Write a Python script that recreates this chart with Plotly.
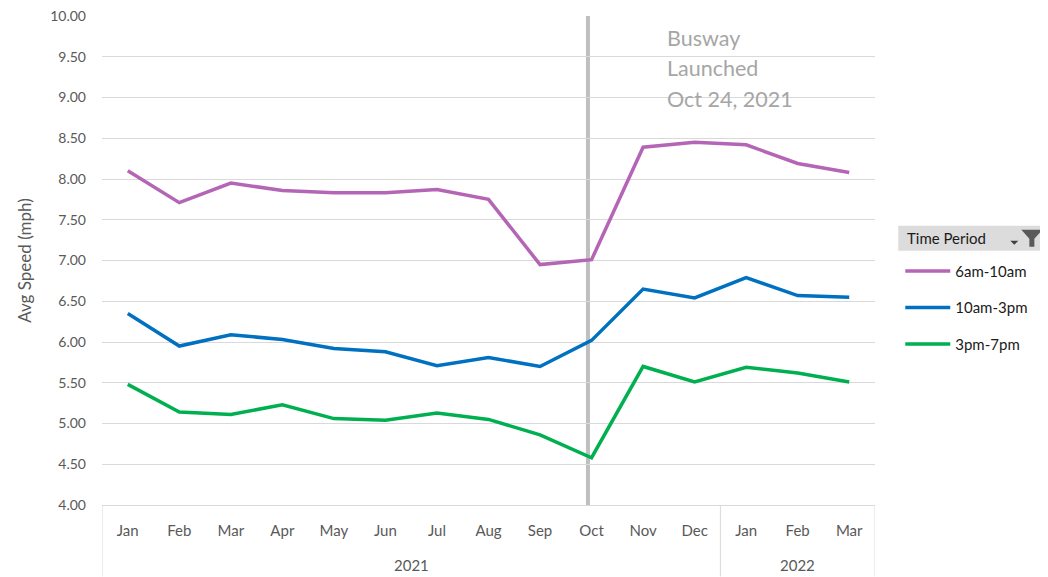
import plotly.graph_objects as go

# ---- data ----
months = ["Jan", "Feb", "Mar", "Apr", "May", "Jun", "Jul", "Aug", "Sep", "Oct", "Nov", "Dec", "Jan", "Feb", "Mar"]
years = ["2021", "2022"]
year_counts = [12, 3]
series_names = ["6am-10am", "10am-3pm", "3pm-7pm"]
speed_6am_10am = [8.10, 7.71, 7.95, 7.86, 7.83, 7.83, 7.87, 7.75, 6.95, 7.01, 8.39, 8.45, 8.42, 8.19, 8.08]
speed_10am_3pm = [6.35, 5.95, 6.09, 6.03, 5.92, 5.88, 5.71, 5.81, 5.70, 6.02, 6.65, 6.54, 6.79, 6.57, 6.55]
speed_3pm_7pm = [5.48, 5.14, 5.11, 5.23, 5.06, 5.04, 5.13, 5.05, 4.86, 4.58, 5.70, 5.51, 5.69, 5.62, 5.51]
busway_position = 8.93  # launch marker, on the month index scale (Oct 24, 2021)
annotation_lines = ["Busway", "Launched", "Oct 24, 2021"]
y_ticks = [4.0, 4.5, 5.0, 5.5, 6.0, 6.5, 7.0, 7.5, 8.0, 8.5, 9.0, 9.5, 10.0]

colors = ["#B565B5", "#0070C0", "#00B050"]
FONT = "Lato, Calibri, Carlito, sans-serif"
GRAY = "#595959"

# page body has an 8px default margin; lay the figure out in screen pixels minus that offset
OFF = 8
W, H = 1048 - OFF, 577 - OFF
L, R, T, B = 102.25 - OFF, 874.75 - OFF, 16.0 - OFF, 505.5 - OFF


def pxx(p):
    return (p - OFF - L) / (R - L)


def pxy(p):
    return (B - (p - OFF)) / (B - T)


x_idx = list(range(len(months)))
fig = go.Figure()
for name, vals, col in zip(series_names, [speed_6am_10am, speed_10am_3pm, speed_3pm_7pm], colors):
    fig.add_trace(go.Scatter(
        x=x_idx, y=vals, mode="lines", name=name, legendgroup=name,
        line=dict(color=col, width=3.5),
    ))

shapes = []
# busway launch line
shapes.append(dict(type="line", xref="x", yref="y", x0=busway_position, x1=busway_position,
                   y0=4, y1=10, line=dict(color="#BFBFBF", width=4), layer="below"))
# category group dividers
bounds = [-0.5]
acc = -0.5
for c in year_counts:
    acc += c
    bounds.append(acc)
for b in bounds:
    shapes.append(dict(type="line", xref="x", yref="paper", x0=b, x1=b, y0=0, y1=pxy(577),
                       line=dict(color="#D9D9D9", width=1)))

annotations = []
start = -0.5
for yr, c in zip(years, year_counts):
    annotations.append(dict(x=start + c / 2, y=pxy(566), xref="x", yref="paper", text=yr,
                            showarrow=False, font=dict(family=FONT, size=15, color=GRAY),
                            xanchor="center", yanchor="middle"))
    start += c

for i, line in enumerate(annotation_lines):
    annotations.append(dict(x=pxx(665), y=pxy(38 + i * 30.5), xref="paper", yref="paper", text=line,
                            showarrow=False, font=dict(family=FONT, size=21.5, color="#A6A6A6"),
                            xanchor="left", yanchor="middle"))

# legend header
shapes.append(dict(type="rect", xref="paper", yref="paper", x0=pxx(898), x1=pxx(1046),
                   y0=pxy(251), y1=pxy(226), fillcolor="#DCDCDC", line=dict(width=0)))
annotations.append(dict(x=pxx(905), y=pxy(238.5), xref="paper", yref="paper", text="Time Period",
                        showarrow=False, font=dict(family=FONT, size=15, color="#1a1a1a"),
                        xanchor="left", yanchor="middle"))


def path(points):
    return "M " + " L ".join(f"{pxx(a)},{pxy(b)}" for a, b in points) + " Z"


# filter icon
shapes.append(dict(type="path", xref="paper", yref="paper",
                   path=path([(1021, 230), (1042, 230), (1034, 239), (1034, 247), (1029, 247), (1029, 239)]),
                   fillcolor="#595959", line=dict(width=0)))
shapes.append(dict(type="path", xref="paper", yref="paper",
                   path=path([(1010, 241), (1018, 241), (1014, 245)]),
                   fillcolor="#404040", line=dict(width=0)))

fig.update_layout(
    width=W, height=H,
    margin=dict(l=L, r=W - R, t=T, b=H - B, autoexpand=False),
    plot_bgcolor="white", paper_bgcolor="white",
    font=dict(family=FONT, size=15, color=GRAY),
    showlegend=True,
    legend=dict(x=pxx(900), y=pxy(255), xanchor="left", yanchor="top",
                font=dict(family=FONT, size=15, color="#1a1a1a"),
                tracegroupgap=14, bgcolor="rgba(0,0,0,0)", itemwidth=45),
    xaxis=dict(range=[-0.5, 14.5], tickmode="array", tickvals=x_idx, ticktext=months,
               showgrid=False, zeroline=False, showline=True, linecolor="#D9D9D9", linewidth=1,
               ticks="", ticklabelstandoff=12, tickfont=dict(family=FONT, size=15, color=GRAY),
               fixedrange=True),
    yaxis=dict(range=[4, 10], tickmode="array", tickvals=y_ticks,
               ticktext=[f"{v:.2f}" for v in y_ticks],
               showgrid=True, gridcolor="#D9D9D9", gridwidth=1, zeroline=False,
               showline=False, ticks="", ticklabelstandoff=15, ticklabeloverflow="allow",
               tickfont=dict(family=FONT, size=14, color=GRAY),
               title=dict(text="Avg Speed (mph)", font=dict(family=FONT, size=17, color=GRAY), standoff=14),
               fixedrange=True),
    shapes=shapes,
    annotations=annotations,
)

fig.write_html("out.html")
